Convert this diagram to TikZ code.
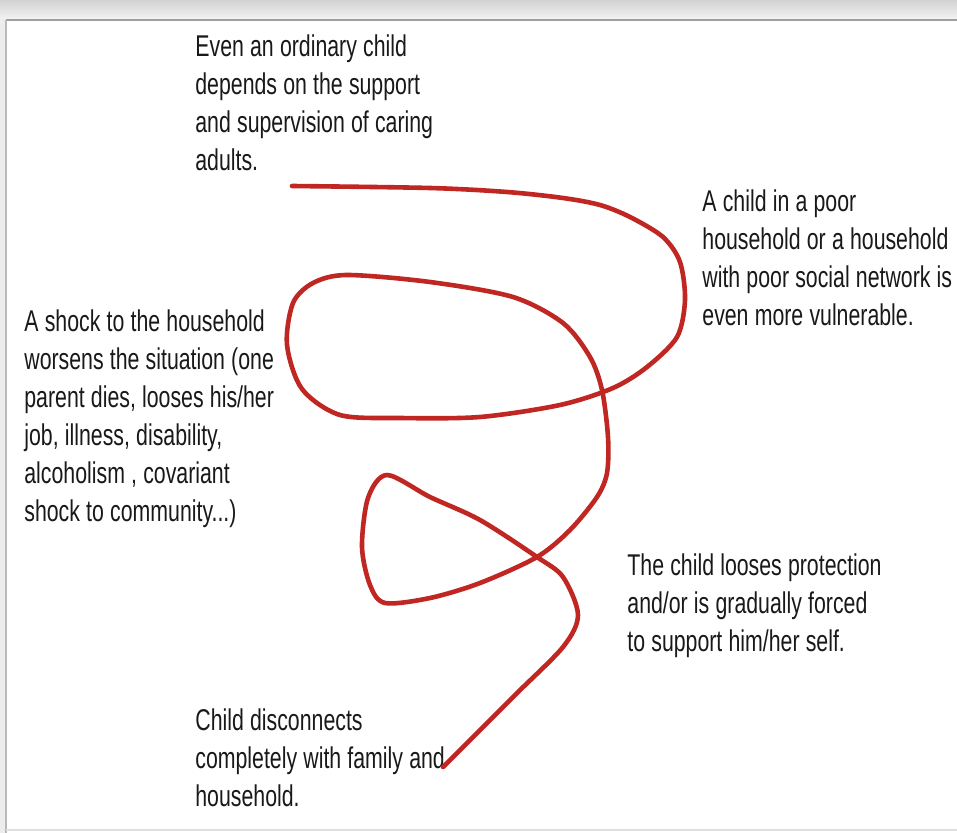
\documentclass[tikz,border=0pt]{standalone}
\usepackage{fontspec}
\setmainfont{Liberation Sans}[FakeStretch=0.71]
\usepackage{tikz}
\usetikzlibrary{positioning}
\definecolor{loopred}{RGB}{192,38,34}
\newcommand\tightspaces{\spaceskip=3.1pt plus 0.5pt minus 0.5pt\relax}

\begin{document}
\begin{tikzpicture}[x=0.5pt,y=-0.5pt,
  note/.style={anchor=base west,inner sep=0pt,text width=160pt,align=left,
    text=black!90,font=\fontsize{15}{19}\selectfont,execute at begin node=\tightspaces},
  scribble/.style={loopred,line width=2.3pt,line cap=round,line join=round}]
\useasboundingbox (0,0) rectangle (957,833);
\fill[white] (0,0) rectangle (957,833);
% window frame
\shade[top color=gray!35,bottom color=gray!10] (0,0) rectangle (957,19);
\fill[gray!14] (0,19) rectangle (6,833);
\draw[gray!75,line width=1pt] (6,20)--(957,20);
\draw[gray!55,line width=0.8pt] (6,20)--(6,833);
\draw[gray!25,line width=0.8pt] (6,830)--(957,830);
% texts
\node[note] (ordinary) at (195,57) {Even an ordinary child\\depends on the support\\and supervision of caring\\adults.};
\node[note] (poor) at (702,212) {A child in a poor\\household or a household\\with poor social network is\\even more vulnerable.};
\node[note] (shock) at (24,332) {A shock to the household\\worsens the situation (one\\parent dies, looses his/her\\job, illness, disability,\\alcoholism , covariant\\shock to community...)};
\node[note] (protect) at (627,575) {The child looses protection\\and/or is gradually forced\\to support him/her self.};
\node[note] (disconnect) at (195,730) {Child disconnects\\completely with family and\\household.};
% the spiral
\coordinate (start) at (292,186);\coordinate (end) at (443,767);
\draw[scribble] plot[smooth,tension=0.5] coordinates {(start) (430,188) (507,192) (563,198)
 (600,205) (630,217) (663,237) (680,262) (685,300) (677,337) (647,367) (613,388)
 (560,405) (480,417) (400,418) (340,415) (302,389) (287,345) (293,303) (313,283)
 (347,275) (430,282) (513,297) (563,323) (590,357) (602,390) (608,437) (607,473)
 (597,497) (570,530) (537,557) (480,583) (430,598) (385,603) (370,585) (362,547)
 (368,498) (387,475) (430,497) (480,520) (537,557) (563,577) (578,615) (563,647)
 (513,697) (end)};
\end{tikzpicture}
\end{document}
